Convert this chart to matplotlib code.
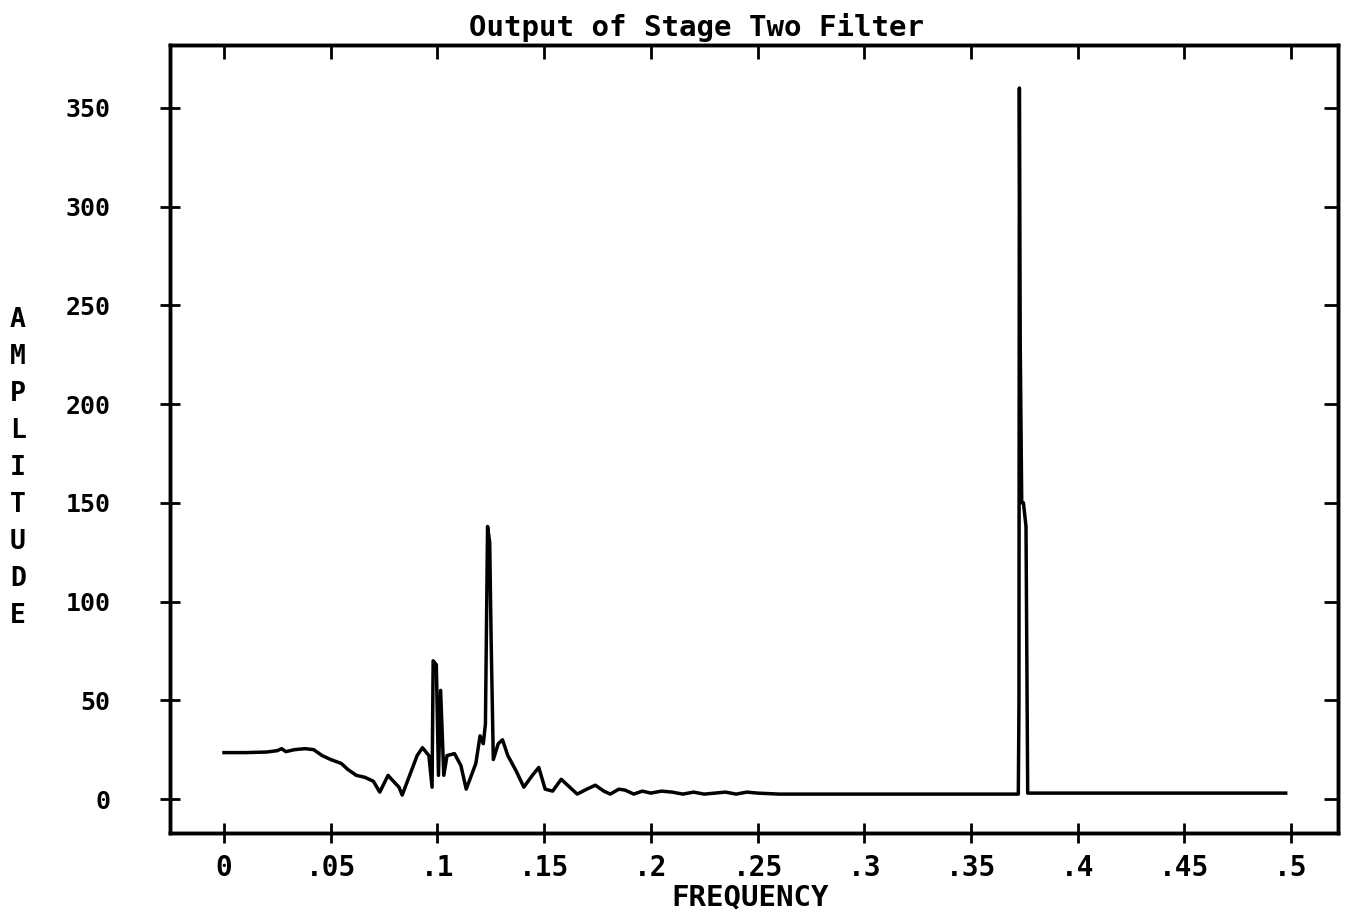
import matplotlib.pyplot as plt

# spectrum (frequency, amplitude)
freq = [0.0, 0.01, 0.02, 0.025, 0.027, 0.029, 0.033, 0.038, 0.042, 0.046,
        0.05, 0.055, 0.058, 0.062, 0.066, 0.07, 0.073, 0.0769, 0.0785, 0.082,
        0.0835, 0.087, 0.0905, 0.093, 0.096, 0.0975, 0.098, 0.0995, 0.1005, 0.1015,
        0.103, 0.1045, 0.108, 0.111, 0.1135, 0.118, 0.12, 0.1215, 0.1225, 0.1235,
        0.1245, 0.1252, 0.1262, 0.1285, 0.1305, 0.133, 0.137, 0.1405, 0.1445, 0.1475,
        0.1505, 0.154, 0.158, 0.162, 0.1655, 0.17, 0.174, 0.178, 0.181, 0.185,
        0.188, 0.192, 0.196, 0.2, 0.205, 0.21, 0.215, 0.22, 0.225, 0.23,
        0.235, 0.24, 0.245, 0.25, 0.26, 0.3722, 0.3725, 0.3727, 0.3731, 0.3738,
        0.3746, 0.3758, 0.3766, 0.4, 0.45, 0.4975]
amp = [23.5, 23.5, 23.8, 24.5, 25.5, 24, 25, 25.5, 25, 22,
       20, 18, 15, 12, 11, 9, 3.5, 12, 10, 6,
       2, 12, 22, 26, 22, 6, 70, 68, 12, 55,
       12, 22, 23, 17, 5, 18, 32, 28, 38, 138,
       130, 79, 20, 28, 30, 22, 14, 6, 12, 16,
       5, 4, 10, 6, 2.5, 5, 7, 4, 2.5, 5,
       4.5, 2.5, 4, 3, 4, 3.5, 2.5, 3.5, 2.5, 3,
       3.5, 2.5, 3.5, 3, 2.5, 2.5, 48, 360, 230, 150,
       150, 138, 3, 3, 3, 3]

xtick_vals = [0, 0.05, 0.1, 0.15, 0.2, 0.25, 0.3, 0.35, 0.4, 0.45, 0.5]
xtick_labels = ['0', '.05', '.1', '.15', '.2', '.25', '.3', '.35', '.4', '.45', '.5']
ytick_vals = [0, 50, 100, 150, 200, 250, 300, 350]

font = ['DejaVu Sans Mono']

fig = plt.figure(figsize=(13.5, 9.16), dpi=100)
ax = fig.add_axes([170 / 1350, 1 - 833 / 916, (1338 - 170) / 1350, (833 - 45) / 916])

ax.plot(freq, amp, color='black', linewidth=2.5)

ax.set_xlim(-0.0253, 0.522)
ax.set_ylim(-17.2, 381.8)

for s in ax.spines.values():
    s.set_linewidth(2.4)

ax.set_xticks(xtick_vals)
ax.set_xticklabels(xtick_labels, family=font, fontweight='bold', fontsize=20)
ax.set_yticks(ytick_vals)
ax.set_yticklabels([str(v) for v in ytick_vals], family=font, fontweight='bold', fontsize=18)
ax.tick_params(axis='both', direction='inout', length=14, width=2)
ax.tick_params(axis='x', pad=8)
ax.tick_params(axis='y', pad=36)

# inward ticks on the top and right edges
ax2 = ax.twinx()
ax2.set_ylim(ax.get_ylim())
ax2.set_yticks(ytick_vals)
ax2.set_yticklabels([])
ax2.tick_params(axis='y', direction='in', length=10, width=2)
ax3 = ax.twiny()
ax3.set_xlim(ax.get_xlim())
ax3.set_xticks(xtick_vals)
ax3.set_xticklabels([])
ax3.tick_params(axis='x', direction='in', length=10, width=2)
for a in (ax2, ax3):
    for s in a.spines.values():
        s.set_linewidth(2.4)

fig.text(697 / 1350, 1 - 28 / 916, 'Output of Stage Two Filter', ha='center', va='center',
         family=font, fontweight='bold', fontsize=21)
fig.text(750 / 1350, 1 - 897 / 916, 'FREQUENCY', ha='center', va='center',
         family=font, fontweight='bold', fontsize=21)

# vertical stacked y label
for i, ch in enumerate('AMPLITUDE'):
    fig.text(18 / 1350, 1 - (320 + i * 37) / 916, ch, ha='center', va='center',
             family=font, fontweight='bold', fontsize=19)

fig.savefig('out.png', dpi=100)
